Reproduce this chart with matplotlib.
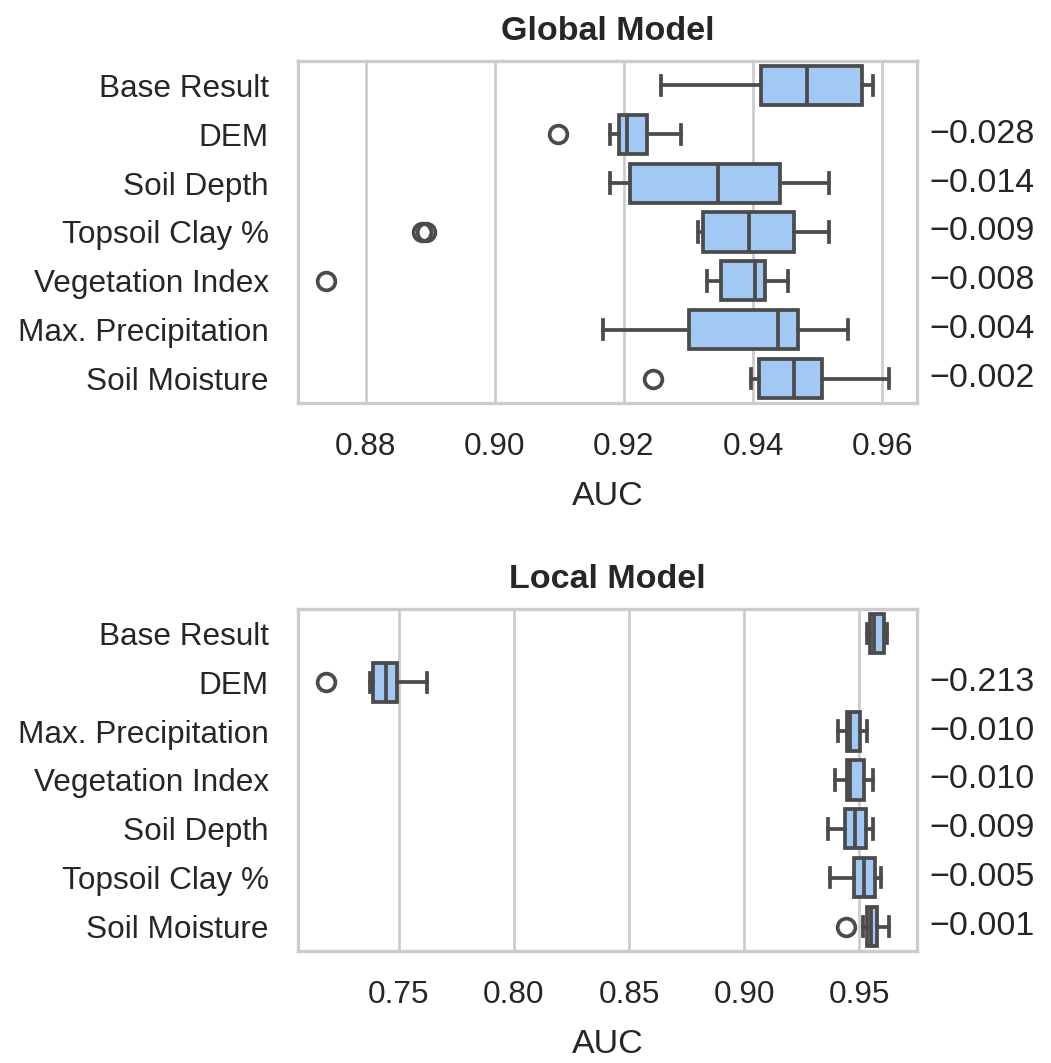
import matplotlib
matplotlib.use("Agg")
import matplotlib.pyplot as plt
import matplotlib.transforms as mtransforms

# ---------------- data ----------------
global_labels = ["Base Result", "DEM", "Soil Depth", "Topsoil Clay %",
                 "Vegetation Index", "Max. Precipitation", "Soil Moisture"]
global_whislo = [0.9258, 0.9178, 0.9178, 0.9315, 0.9328, 0.9167, 0.9397]
global_q1     = [0.9412, 0.9193, 0.9210, 0.9323, 0.9350, 0.9300, 0.9409]
global_med    = [0.9484, 0.9204, 0.9345, 0.9394, 0.9403, 0.9439, 0.9463]
global_q3     = [0.9569, 0.9236, 0.9441, 0.9463, 0.9418, 0.9469, 0.9507]
global_whishi = [0.9585, 0.9288, 0.9517, 0.9517, 0.9454, 0.9547, 0.9610]
global_fliers = [[], [0.9098], [], [0.8887, 0.8894], [0.8739], [], [0.9245]]
global_delta  = [None, -0.028, -0.014, -0.009, -0.008, -0.004, -0.002]

local_labels = ["Base Result", "DEM", "Max. Precipitation", "Vegetation Index",
                "Soil Depth", "Topsoil Clay %", "Soil Moisture"]
local_whislo = [0.9532, 0.7376, 0.9410, 0.9394, 0.9363, 0.9373, 0.9517]
local_q1     = [0.9545, 0.7389, 0.9445, 0.9445, 0.9438, 0.9478, 0.9532]
local_med    = [0.9564, 0.7443, 0.9459, 0.9458, 0.9484, 0.9523, 0.9550]
local_q3     = [0.9608, 0.7494, 0.9504, 0.9520, 0.9530, 0.9568, 0.9579]
local_whishi = [0.9619, 0.7624, 0.9533, 0.9559, 0.9562, 0.9595, 0.9629]
local_fliers = [[], [0.7184], [], [], [], [], [0.9442]]
local_delta  = [None, -0.213, -0.010, -0.010, -0.009, -0.005, -0.001]

x_label = "AUC"
titles = ["Global Model", "Local Model"]

# ---------------- style ----------------
plt.rcParams["font.family"] = ["Liberation Sans", "DejaVu Sans"]
FILL = "#a1c9f4"
LINE = "#4b4b4b"
TEXT = "#262626"
GRID = "#cccccc"
TICK_FS = 15.1
LABEL_FS = 16.3
LW = 1.8

W, H, DPI = 1051, 1063, 150
fig = plt.figure(figsize=(W / DPI, H / DPI), dpi=DPI)

left = 298 / W
width = 619 / W
ax_h = 342 / H
axes = [fig.add_axes([left, 1 - 403 / H, width, ax_h]),
        fig.add_axes([left, 1 - 951 / H, width, ax_h])]

datasets = [
    (global_labels, global_whislo, global_q1, global_med, global_q3,
     global_whishi, global_fliers, global_delta),
    (local_labels, local_whislo, local_q1, local_med, local_q3,
     local_whishi, local_fliers, local_delta),
]

for ax, title, data in zip(axes, titles, datasets):
    labels, wlo, q1, med, q3, whi, fl, delta = data
    stats = []
    for i in range(len(labels)):
        stats.append(dict(label=labels[i], whislo=wlo[i], q1=q1[i], med=med[i],
                          q3=q3[i], whishi=whi[i], fliers=fl[i]))
    pos = list(range(len(labels)))
    ax.bxp(stats, positions=pos, vert=False, widths=0.8, patch_artist=True,
           showfliers=True,
           boxprops=dict(facecolor=FILL, edgecolor=LINE, linewidth=LW),
           medianprops=dict(color=LINE, linewidth=LW),
           whiskerprops=dict(color=LINE, linewidth=LW),
           capprops=dict(color=LINE, linewidth=LW),
           flierprops=dict(marker="o", markerfacecolor="none",
                           markeredgecolor=LINE, markersize=8.5,
                           markeredgewidth=LW),
           manage_ticks=False, zorder=2)
    ax.set_yticks(pos)
    ax.set_yticklabels(labels)
    ax.set_ylim(len(labels) - 0.5, -0.5)
    ax.set_xmargin(0.05)
    ax.autoscale(axis="x")

    ax.set_facecolor("white")
    ax.grid(True, axis="x", color=GRID, linewidth=1.3, zorder=0)
    ax.grid(False, axis="y")
    ax.set_axisbelow(True)
    for sp in ax.spines.values():
        sp.set_color(GRID)
        sp.set_linewidth(1.6)
    ax.tick_params(axis="both", length=0, labelsize=TICK_FS, colors=TEXT)
    ax.tick_params(axis="y", pad=14)
    ax.tick_params(axis="x", pad=14)
    ax.set_xlabel(x_label, fontsize=LABEL_FS, color=TEXT, labelpad=9)
    ax.set_title(title, fontsize=LABEL_FS, fontweight="bold", color=TEXT, pad=10)

    trans = mtransforms.blended_transform_factory(ax.transAxes, ax.transData)
    for i, d in enumerate(delta):
        if d is None:
            continue
        ax.text(1.02, i, f"{d:.3f}".replace("-", "\u2212"), transform=trans,
                ha="left", va="center", fontsize=LABEL_FS, color=TEXT)

axes[0].set_xticks([0.88, 0.90, 0.92, 0.94, 0.96])
axes[1].set_xticks([0.75, 0.80, 0.85, 0.90, 0.95])

fig.savefig("out.png", dpi=DPI, facecolor="white")
